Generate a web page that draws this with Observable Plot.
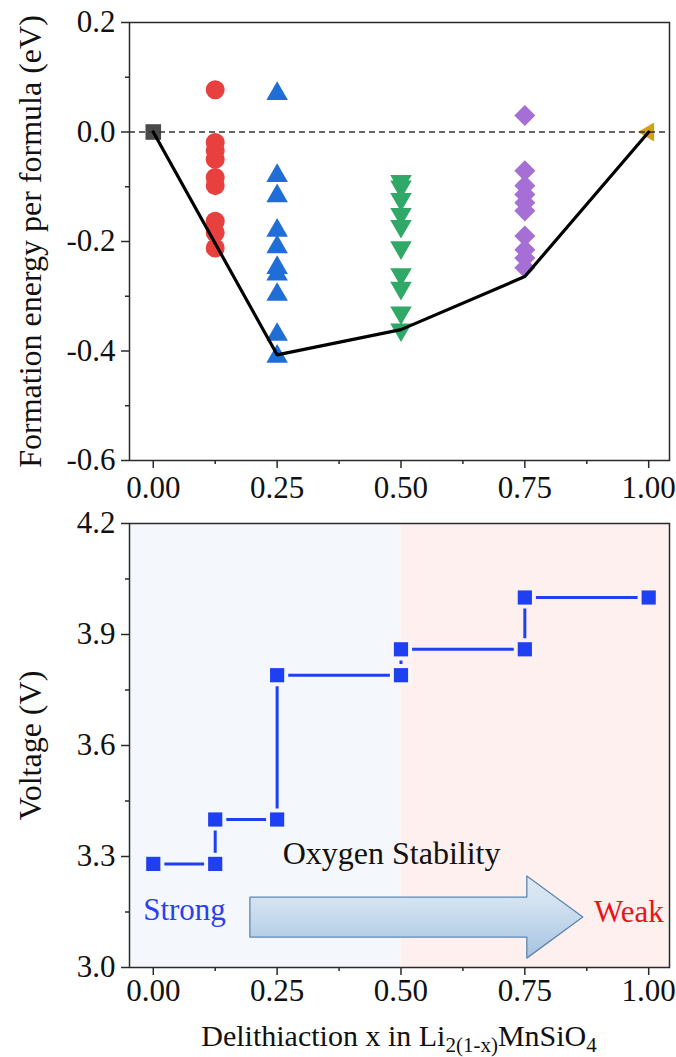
<!DOCTYPE html>
<html>
<head>
<meta charset="utf-8">
<script src="https://cdn.jsdelivr.net/npm/d3@7"></script>
<script src="https://cdn.jsdelivr.net/npm/@observablehq/plot@0.6"></script>
<style>
  html, body { margin: 0; padding: 0; background: #fff; }
  #wrap { position: relative; width: 676px; height: 1057px; font-family: "Liberation Serif", "Times New Roman", serif; }
  #wrap svg { display: block; }
  #xlabel { position: absolute; left: 129px; width: 540px; top: 1018px; text-align: center; font-size: 30px; line-height: 36px; color: #111; white-space: nowrap; }
  #xlabel sub { font-size: 0.7em; line-height: 0; vertical-align: -0.3em; }
</style>
</head>
<body>
<div id="wrap"></div>
<script>
// ---------- data ----------
const xDomain = [-0.048, 1.042];
const majorX = [0, 0.25, 0.5, 0.75, 1];
const minorX = [0.125, 0.375, 0.625, 0.875];

// top panel: formation energy per formula (eV)
const topMajorY = [-0.6, -0.4, -0.2, 0, 0.2];
const topMinorY = [-0.5, -0.3, -0.1, 0.1];
const endX = [0, 1];                 // pure end members
const endE = [0, 0];
const xRed = 0.125, xBlue = 0.25, xGreen = 0.5, xPurple = 0.75;
const eRed = [0.077, -0.019, -0.034, -0.05, -0.083, -0.098, -0.163, -0.184, -0.212];
const eBlue = [0.07, -0.08, -0.117, -0.18, -0.21, -0.248, -0.26, -0.297, -0.37, -0.41];
const eGreen = [-0.09, -0.10, -0.123, -0.15, -0.172, -0.211, -0.26, -0.285, -0.33, -0.361];
const ePurple = [0.03, -0.071, -0.098, -0.114, -0.129, -0.144, -0.19, -0.215, -0.23, -0.248];
const hullX = [0, 0.25, 0.5, 0.75, 1];
const hullE = [0, -0.407, -0.361, -0.264, 0];

// bottom panel: voltage (V)
const botMajorY = [3.0, 3.3, 3.6, 3.9, 4.2];
const botMinorY = [3.15, 3.45, 3.75, 4.05];
const vX = [0, 0.125, 0.125, 0.25, 0.25, 0.5, 0.5, 0.75, 0.75, 1];
const vV = [3.28, 3.28, 3.40, 3.40, 3.79, 3.79, 3.86, 3.86, 4.00, 4.00];

// background regions (x ranges)
const bgX1 = [-0.048, 0.5];
const bgX2 = [0.5, 1.042];
// arrow outline (x, lower V, upper V)
const arrowX = [0.196, 0.755, 0.755, 0.868];
const arrowLo = [3.081, 3.081, 3.024, 3.135];
const arrowHi = [3.189, 3.189, 3.246, 3.135];
// annotations
const noteText = ["Oxygen Stability", "Strong", "Weak"];
const noteX = [0.481, 0.063, 0.96];
const noteV = [3.308, 3.154, 3.149];

// ---------- styles ----------
const FONT = "'Liberation Serif','Times New Roman',serif";
const AX = "#2a2a2a";
const TICKFONT = 31;
const bgColors = ["#f4f8fc", "#fdf0ef"];
const noteColors = ["#111111", "#2b3ff0", "#e8141c"];
const noteSizes = [32, 31, 31];

const triDown = { draw(ctx, size) { const y = -Math.sqrt(size / (Math.sqrt(3) * 3)); ctx.moveTo(0, -2 * y); ctx.lineTo(-Math.sqrt(3) * y, y); ctx.lineTo(Math.sqrt(3) * y, y); ctx.closePath(); } };
const triLeft = { draw(ctx, size) { const y = -Math.sqrt(size / (Math.sqrt(3) * 3)); ctx.moveTo(2 * y, 0); ctx.lineTo(-y, Math.sqrt(3) * y); ctx.lineTo(-y, -Math.sqrt(3) * y); ctx.closePath(); } };

function axes(majY, minY, fmtY, padX) {
  return [
    Plot.axisX(majorX, {tickSize: 8, tickPadding: padX, tickFormat: d => d.toFixed(2), fontSize: TICKFONT, stroke: AX, strokeWidth: 1.5, fill: "#111", label: null}),
    Plot.axisX(minorX, {tickSize: 4, tickFormat: () => "", stroke: AX, strokeWidth: 1.5, label: null}),
    Plot.axisY(majY, {tickSize: 8, tickPadding: 6, tickFormat: fmtY, fontSize: TICKFONT, stroke: AX, strokeWidth: 1.5, fill: "#111", label: null}),
    Plot.axisY(minY, {tickSize: 4, tickFormat: () => "", stroke: AX, strokeWidth: 1.5, label: null})
  ];
}

const topPlot = Plot.plot({
  width: 676, height: 505,
  marginLeft: 129, marginRight: 7, marginTop: 22, marginBottom: 45,
  style: {fontFamily: FONT, fontSize: TICKFONT + "px", background: "#fff", color: "#111", overflow: "visible"},
  x: {domain: xDomain},
  y: {domain: [-0.6, 0.2]},
  marks: [
    ...axes(topMajorY, topMinorY, d => d.toFixed(1), 7),
    Plot.dot(eRed, {x: () => xRed, y: d => d, r: 9.5, symbol: "circle", fill: "#e8403f"}),
    Plot.dot(eBlue, {x: () => xBlue, y: d => d, r: 8, symbol: "triangle", fill: "#1f6ed8"}),
    Plot.dot(eGreen, {x: () => xGreen, y: d => d, r: 8, symbol: triDown, fill: "#2fa868"}),
    Plot.dot(ePurple, {x: () => xPurple, y: d => d, r: 9.5, symbol: "diamond2", fill: "#a56fd6"}),
    Plot.dot([0], {x: () => endX[0], y: () => endE[0], r: 8.8, symbol: "square", fill: "#4a4a4a"}),
    Plot.dot([1], {x: () => endX[1], y: () => endE[1], r: 7, symbol: triLeft, fill: "#d4a017"}),
    Plot.ruleY([0], {stroke: "#333", strokeWidth: 1.3, strokeDasharray: "6,4"}),
    Plot.line(hullX, {x: d => d, y: (d, i) => hullE[i], stroke: "#000", strokeWidth: 3.2}),
    Plot.text([0], {frameAnchor: "left", textAnchor: "middle", dx: -99, rotate: -90, text: () => "Formation energy per formula (eV)", fontSize: 32, fill: "#111"}),
    Plot.frame({stroke: AX, strokeWidth: 1.5})
  ]
});

const gradDefs = () => {
  const defs = d3.create("svg:defs");
  const g = defs.append("linearGradient").attr("id", "arrowGrad").attr("x1", 0).attr("y1", 0).attr("x2", 0).attr("y2", 1);
  g.append("stop").attr("offset", "0%").attr("stop-color", "#dfeaf5");
  g.append("stop").attr("offset", "30%").attr("stop-color", "#d3e3f1");
  g.append("stop").attr("offset", "100%").attr("stop-color", "#a6c4e0");
  return defs.node();
};

const haloColor = x => x < 0.5 ? bgColors[0] : x > 0.5 ? bgColors[1] : "#f9f4f6";

const botPlot = Plot.plot({
  width: 676, height: 552,
  marginLeft: 129, marginRight: 7, marginTop: 18, marginBottom: 90,
  style: {fontFamily: FONT, fontSize: TICKFONT + "px", background: "#fff", color: "#111"},
  x: {domain: xDomain},
  y: {domain: [3.0, 4.2]},
  marks: [
    gradDefs,
    Plot.rect(bgX1, {x1: d => d, x2: (d, i) => bgX2[i], y1: () => 3.0, y2: () => 4.2, fill: (d, i) => bgColors[i]}),
    ...axes(botMajorY, botMinorY, d => d.toFixed(1), 3),
    Plot.areaY(arrowX, {x: d => d, y1: (d, i) => arrowLo[i], y2: (d, i) => arrowHi[i], fill: "url(#arrowGrad)", stroke: "#5f86b0", strokeWidth: 1.3}),
    Plot.line(vX, {x: d => d, y: (d, i) => vV[i], stroke: "#1f3ff2", strokeWidth: 3}),
    Plot.dot(vX, {x: d => d, y: (d, i) => vV[i], r: 8, symbol: "square", fill: "#1f3ff2", stroke: d => haloColor(d), strokeWidth: 8, paintOrder: "stroke"}),
    Plot.text(noteText, {x: (d, i) => noteX[i], y: (d, i) => noteV[i], text: d => d, fontSize: (d, i) => noteSizes[i], fill: (d, i) => noteColors[i]}),
    Plot.text([0], {frameAnchor: "left", textAnchor: "middle", dx: -99, rotate: -90, text: () => "Voltage (V)", fontSize: 32, fill: "#111"}),
    Plot.frame({stroke: AX, strokeWidth: 1.5})
  ]
});

const wrap = document.getElementById("wrap");
wrap.appendChild(topPlot);
wrap.appendChild(botPlot);
botPlot.style.position = "absolute";
botPlot.style.left = "0px";
botPlot.style.top = "505px";
const xl = document.createElement("div");
xl.id = "xlabel";
xl.innerHTML = "Delithiaction x in Li<sub>2(1-x)</sub>MnSiO<sub>4</sub>";
wrap.appendChild(xl);
</script>
</body>
</html>
